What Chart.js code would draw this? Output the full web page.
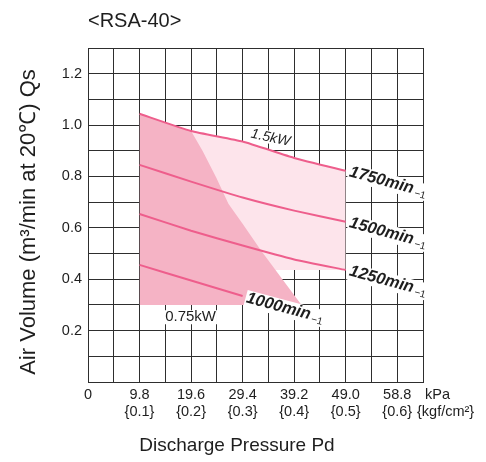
<!DOCTYPE html>
<html><head><meta charset="utf-8">
<script src="https://cdn.jsdelivr.net/npm/chart.js@4/dist/chart.umd.min.js"></script>
<style>html,body{margin:0;padding:0;background:#fff;}#wrap{width:486px;height:462px;position:relative;}</style>
</head><body><div id="wrap"><canvas id="c" width="486" height="462"></canvas></div>
<script>
// ---- data ----
const pressureKPa = [9.8, 19.6, 29.4, 39.2, 49.0];
const q1750 = [1.044, 0.977, 0.936, 0.872, 0.822];
const q1500 = [0.845, 0.780, 0.718, 0.667, 0.624];
const q1250 = [0.654, 0.589, 0.531, 0.477, 0.436];
const pressure1000 = [9.8, 19.6, 29.4];
const q1000 = [0.456, 0.395, 0.335];
// boundary between the 0.75kW and 1.5kW zones
const limitKPa = [19.6, 21.8, 24.4, 26.7, 29.4, 32.9, 40.6];
const limitQ = [0.977, 0.899, 0.795, 0.694, 0.616, 0.512, 0.300];
const lowZoneFloor = 0.30;
const highZoneFloor = 0.436;
const speedNames = ['1750', '1500', '1250', '1000'];
const powerNames = ['1.5kW', '0.75kW'];
const xTickKPa = ['0', '9.8', '19.6', '29.4', '39.2', '49.0', '58.8'];
const xTickKgf = ['', '{0.1}', '{0.2}', '{0.3}', '{0.4}', '{0.5}', '{0.6}'];
const yTickLabels = ['0.2', '0.4', '0.6', '0.8', '1.0', '1.2'];
const gridStepX = 4.9, xMax = 63.7, gridStepY = 0.1, yMax = 1.3;

const pts = (xs, ys) => xs.map((x, i) => ({x: x, y: ys[i]}));
const LINE = '#ee5e8c', DARK = '#f5b3c5', LIGHT = '#fde4eb', GRID = '#2e2e2e', TXT = '#1e1e1e';
const FONT = '"Liberation Sans", Arial, Helvetica, sans-serif';

const darkZone = pts(pressureKPa.slice(0, 1), q1750.slice(0, 1)).concat(pts(limitKPa, limitQ));
const lightZone = pts(pressureKPa.slice(1), q1750.slice(1));

const curve = (data, order) => ({data: data, showLine: true, borderColor: LINE, borderWidth: 2, pointRadius: 0, fill: false, tension: 0.15, order: order});

const labelsPlugin = {
  id: 'labels',
  afterDatasetsDraw(chart) {
    const ctx = chart.ctx, xs = chart.scales.x, ys = chart.scales.y, ca = chart.chartArea;
    function speedLabel(name, xv, yv, dx, dy) {
      const px = xs.getPixelForValue(xv) + dx, py = ys.getPixelForValue(yv) + dy;
      ctx.save();
      ctx.translate(px, py);
      ctx.rotate(15 * Math.PI / 180);
      ctx.textBaseline = 'middle'; ctx.textAlign = 'left';
      ctx.font = 'italic bold 16.5px ' + FONT;
      const w = ctx.measureText(name + 'min').width;
      ctx.font = '10px ' + FONT;
      const w2 = ctx.measureText('\u22121').width;
      ctx.fillStyle = '#fff';
      ctx.fillRect(-1, -8, w + w2 + 4, 17);
      ctx.font = 'italic bold 16.5px ' + FONT;
      ctx.fillStyle = TXT;
      ctx.fillText(name + 'min', 0, 0);
      ctx.font = '10px ' + FONT;
      ctx.fillText('\u22121', w + 2, 4);
      ctx.restore();
    }
    const n = pressureKPa.length - 1;
    speedLabel(speedNames[0], pressureKPa[n], q1750[n], 4, 1);
    speedLabel(speedNames[1], pressureKPa[n], q1500[n], 4, 1);
    speedLabel(speedNames[2], pressureKPa[n], q1250[n], 4, 1);
    const m = pressure1000.length - 1;
    speedLabel(speedNames[3], pressure1000[m], q1000[m], 4, 2);

    // power labels
    ctx.save();
    ctx.translate(xs.getPixelForValue(34.7), ys.getPixelForValue(0.95));
    ctx.rotate(12 * Math.PI / 180);
    ctx.font = 'italic 14px ' + FONT;
    ctx.textAlign = 'center'; ctx.textBaseline = 'middle';
    const w1 = ctx.measureText(powerNames[0]).width;
    ctx.fillStyle = '#fff'; ctx.fillRect(-w1 / 2 - 1, -7, w1 + 2, 13);
    ctx.fillStyle = TXT; ctx.fillText(powerNames[0], 0, 0);
    ctx.restore();

    ctx.save();
    ctx.font = '15px ' + FONT;
    ctx.textAlign = 'center'; ctx.textBaseline = 'middle';
    const cx = xs.getPixelForValue(19.5), cy = ys.getPixelForValue(0.252);
    const w0 = ctx.measureText(powerNames[1]).width;
    ctx.fillStyle = '#fff'; ctx.fillRect(cx - w0 / 2 - 1, cy - 7, w0 + 2, 14);
    ctx.fillStyle = TXT; ctx.fillText(powerNames[1], cx, cy);
    ctx.restore();

    // titles and unit labels
    ctx.save();
    ctx.fillStyle = TXT;
    ctx.textBaseline = 'middle'; ctx.textAlign = 'left';
    ctx.font = '20px ' + FONT;
    ctx.fillText('<RSA-40>', ca.left, 21);
    ctx.font = '14.5px ' + FONT;
    ctx.fillText('kPa', ca.right + 2, 395);
    ctx.fillText('{kgf/cm\u00B2}', ca.right - 6, 412);
    ctx.textAlign = 'center';
    ctx.font = '19px ' + FONT;
    ctx.fillText('Discharge Pressure Pd', 237, 446);
    ctx.translate(29, 222);
    ctx.rotate(-Math.PI / 2);
    ctx.font = '22px ' + FONT;
    ctx.fillText('Air Volume (m\u00B3/min at 20\u2103) Qs', 0, 0);
    ctx.restore();
  }
};

new Chart(document.getElementById('c'), {
  type: 'scatter',
  data: {
    datasets: [
      {data: lightZone, showLine: true, borderWidth: 0, borderColor: 'rgba(0,0,0,0)', pointRadius: 0, backgroundColor: LIGHT, fill: {value: highZoneFloor}, order: 6},
      {data: darkZone, showLine: true, borderWidth: 0, borderColor: 'rgba(0,0,0,0)', pointRadius: 0, backgroundColor: DARK, fill: {value: lowZoneFloor}, order: 5},
      curve(pts(pressureKPa, q1750), 1),
      curve(pts(pressureKPa, q1500), 1),
      curve(pts(pressureKPa, q1250), 1),
      curve(pts(pressure1000, q1000), 1)
    ]
  },
  options: {
    responsive: false,
    animation: false,
    layout: {padding: {left: 0, right: 63, top: 48, bottom: 0}},
    plugins: {legend: {display: false}, tooltip: {enabled: false}, title: {display: false}},
    scales: {
      x: {
        type: 'linear', min: 0, max: xMax,
        afterFit(s) { s.height = 80; },
        afterBuildTicks(s) { const t = []; for (let k = 0; k <= 13; k++) t.push({value: +(k * gridStepX).toFixed(2)}); s.ticks = t; },
        grid: {color: GRID, lineWidth: 1, drawTicks: false},
        border: {color: GRID, width: 1},
        ticks: {
          autoSkip: false, maxRotation: 0, padding: 5, color: TXT,
          font: {family: FONT, size: 14.5, lineHeight: 1.15},
          callback(v) {
            const k = Math.round(v / gridStepX);
            if (k % 2 !== 0 || k / 2 >= xTickKPa.length) return '';
            const i = k / 2;
            return i === 0 ? xTickKPa[0] : [xTickKPa[i], xTickKgf[i]];
          }
        }
      },
      y: {
        type: 'linear', min: 0, max: yMax,
        afterFit(s) { s.width = 88; },
        afterBuildTicks(s) { const t = []; for (let k = 0; k <= 13; k++) t.push({value: +(k * gridStepY).toFixed(2)}); s.ticks = t; },
        grid: {color: GRID, lineWidth: 1, drawTicks: false},
        border: {color: GRID, width: 1},
        ticks: {
          padding: 6, color: TXT,
          font: {family: FONT, size: 14.5},
          callback(v) {
            const k = Math.round(v / gridStepY);
            if (k === 0 || k % 2 !== 0) return '';
            return yTickLabels[k / 2 - 1] || '';
          }
        }
      }
    }
  },
  plugins: [labelsPlugin]
});
</script></body></html>
